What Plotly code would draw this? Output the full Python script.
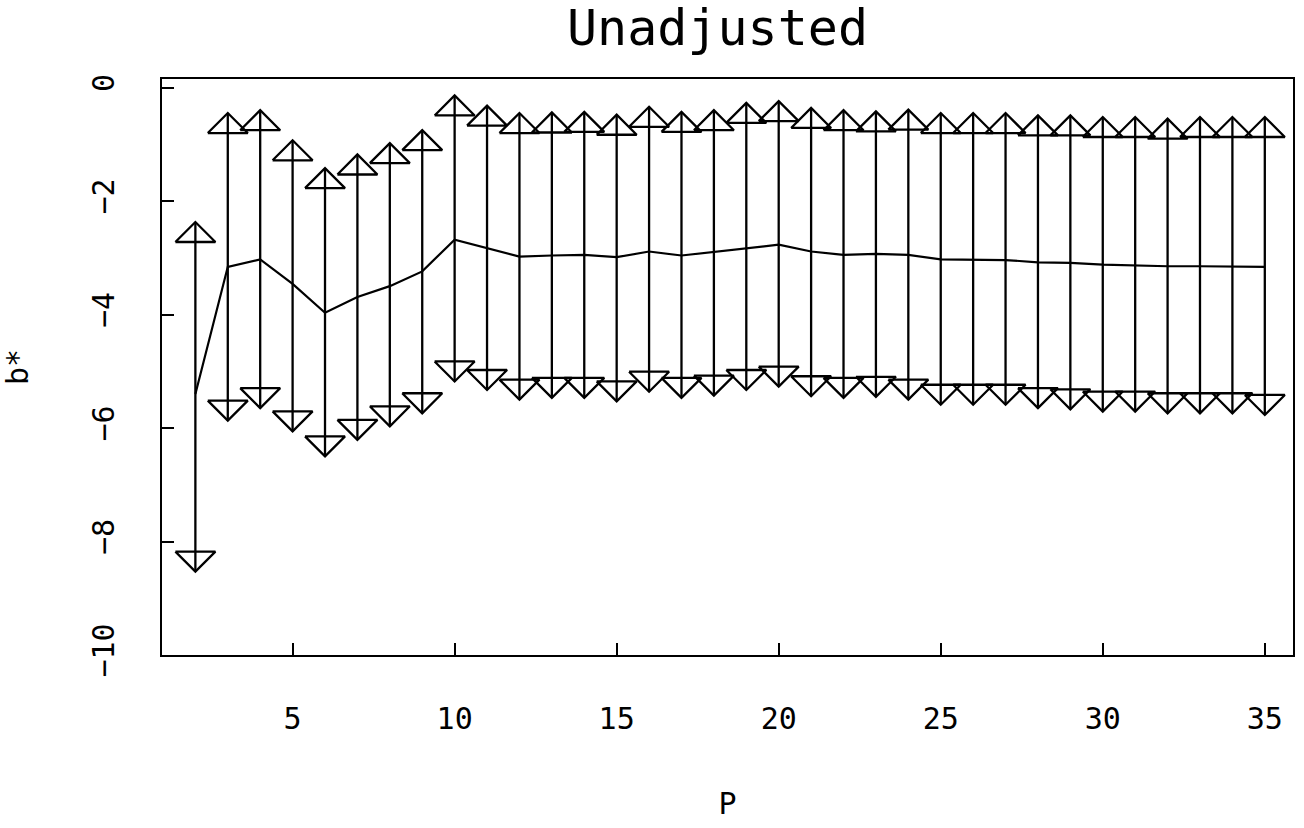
import plotly.graph_objects as go

# Data
P = list(range(2, 36))
center = [-5.40, -3.16, -3.03, -3.46, -3.97, -3.69, -3.50, -3.24, -2.68, -2.83,
          -2.98, -2.96, -2.95, -2.99, -2.89, -2.96, -2.90, -2.83, -2.77, -2.89,
          -2.95, -2.93, -2.95, -3.03, -3.03, -3.04, -3.08, -3.09, -3.12, -3.14,
          -3.15, -3.15, -3.15, -3.16]
upper = [-2.37, -0.45, -0.40, -0.93, -1.42, -1.18, -0.98, -0.75, -0.14, -0.32,
         -0.45, -0.44, -0.43, -0.48, -0.34, -0.43, -0.40, -0.27, -0.24, -0.36,
         -0.40, -0.42, -0.39, -0.45, -0.45, -0.45, -0.49, -0.49, -0.52, -0.52,
         -0.55, -0.52, -0.52, -0.52]
lower = [-8.53, -5.87, -5.65, -6.06, -6.50, -6.21, -5.97, -5.74, -5.18, -5.33,
         -5.50, -5.47, -5.47, -5.53, -5.36, -5.47, -5.43, -5.33, -5.27, -5.44,
         -5.47, -5.45, -5.50, -5.59, -5.59, -5.59, -5.65, -5.67, -5.71, -5.71,
         -5.74, -5.74, -5.74, -5.77]
x_ticks = [5, 10, 15, 20, 25, 30, 35]
y_ticks = [0, -2, -4, -6, -8, -10]

FONT = "DejaVu Sans Mono"
W, H = 1304, 828
ML, MR, MT, MB = 162, 11, 79, 173
XR = [0.97, 35.87]
YR = [-10, 0.15]

# arrow-head size in pixels converted to data units
HEAD_HALF_W_PX, HEAD_H_PX = 20, 20
dx = HEAD_HALF_W_PX * (XR[1] - XR[0]) / (W - ML - MR)
dy = HEAD_H_PX * (YR[1] - YR[0]) / (H - MT - MB)


def heads(xs, ys, direction):
    hx, hy = [], []
    for x, y in zip(xs, ys):
        base = y - direction * dy
        hx += [x - dx, x + dx, x, x - dx, None]
        hy += [base, base, y, base, None]
    return hx, hy


plus = [u - c for u, c in zip(upper, center)]
minus = [c - l for c, l in zip(center, lower)]

fig = go.Figure()
fig.add_trace(go.Scatter(
    x=P, y=center, mode="lines",
    line=dict(color="black", width=2.2),
    error_y=dict(type="data", symmetric=False, array=plus, arrayminus=minus,
                 color="black", thickness=2.3, width=0),
    showlegend=False, hoverinfo="skip"))
ux, uy = heads(P, upper, 1)
fig.add_trace(go.Scatter(x=ux, y=uy, mode="lines",
                         line=dict(color="black", width=2.3),
                         showlegend=False, hoverinfo="skip"))
lx, ly = heads(P, lower, -1)
fig.add_trace(go.Scatter(x=lx, y=ly, mode="lines",
                         line=dict(color="black", width=2.3),
                         showlegend=False, hoverinfo="skip"))

fig.update_layout(
    width=W, height=H,
    margin=dict(l=ML, r=MR, t=MT, b=MB, autoexpand=False),
    paper_bgcolor="white", plot_bgcolor="white",
    font=dict(family=FONT, color="black", size=30),
    title=dict(text="Unadjusted", x=717.5 / W, xanchor="center",
               y=1 - 27 / H, yanchor="middle", yref="container",
               font=dict(family=FONT, size=50, color="black")),
    xaxis=dict(range=XR, tickvals=x_ticks, ticks="inside", ticklen=12,
               tickwidth=2, tickcolor="black", showline=True, linewidth=2.3,
               linecolor="black", mirror=True, showgrid=False, zeroline=False,
               automargin=False,
               tickfont=dict(family=FONT, size=30), ticklabelstandoff=36,
               title=dict(text="P", font=dict(family=FONT, size=30), standoff=58)),
    yaxis=dict(range=YR, tickvals=y_ticks, ticks="inside", ticklen=12,
               tickwidth=2, tickcolor="black", showline=True, linewidth=2.3,
               linecolor="black", mirror=True, showgrid=False, zeroline=False,
               automargin=False,
               tickangle=-90, tickfont=dict(family=FONT, size=30),
               ticklabelstandoff=34,
               title=dict(text="b*", font=dict(family=FONT, size=30), standoff=63)),
)

fig.write_html("out.html")
